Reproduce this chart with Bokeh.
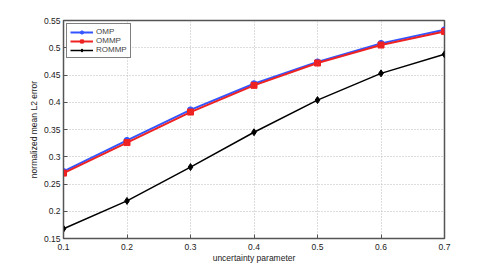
from bokeh.plotting import figure
from bokeh.embed import file_html
from bokeh.resources import INLINE
from bokeh.models import Legend, LegendItem, FixedTicker

x = [0.1, 0.2, 0.3, 0.4, 0.5, 0.6, 0.7]
omp = [0.273, 0.330, 0.386, 0.434, 0.474, 0.508, 0.533]
ommp = [0.270, 0.326, 0.382, 0.431, 0.472, 0.505, 0.530]
rommp = [0.168, 0.219, 0.281, 0.345, 0.404, 0.453, 0.488]
xticks = [0.1, 0.2, 0.3, 0.4, 0.5, 0.6, 0.7]
yticks = [0.15, 0.2, 0.25, 0.3, 0.35, 0.4, 0.45, 0.5, 0.55]

p = figure(width=483, height=265, output_backend="svg", toolbar_location=None,
           x_range=(0.1, 0.7), y_range=(0.15, 0.55),
           min_border_left=63, min_border_right=39, min_border_top=20, min_border_bottom=22)

font = "Liberation Sans"
for ax in (p.xaxis[0], p.yaxis[0]):
    ax.major_label_text_font = font
    ax.major_label_text_font_size = "8.5px"
    ax.major_label_text_color = "#222222"
    ax.axis_label_text_font = font
    ax.axis_label_text_font_size = "8.5px"
    ax.axis_label_text_font_style = "normal"
    ax.axis_label_text_color = "#222222"
    ax.major_tick_in = 4
    ax.major_tick_out = 0
    ax.minor_tick_in = 0
    ax.minor_tick_out = 0
    ax.axis_line_color = "#555555"
    ax.major_tick_line_color = "#555555"

p.xaxis.major_label_standoff = 5
p.yaxis.major_label_standoff = 3
p.xaxis.axis_label_standoff = 0
p.yaxis.axis_label_standoff = 2
p.xaxis.ticker = FixedTicker(ticks=xticks)
p.yaxis.ticker = FixedTicker(ticks=yticks)
p.xaxis.axis_label = "uncertainty parameter"
p.yaxis.axis_label = "normalized mean L2 error"
p.yaxis.major_label_orientation = "horizontal"

p.xgrid.grid_line_color = "#bbbbbb"
p.ygrid.grid_line_color = "#bbbbbb"
p.xgrid.grid_line_dash = "1 2"
p.ygrid.grid_line_dash = "1 2"
p.outline_line_color = "#555555"
p.outline_line_width = 1.5

l1 = p.line(x, omp, line_color="#3355ff", line_width=2)
m1 = p.scatter(x, omp, marker="circle", size=6, fill_color="#3355ff", line_color="#3355ff")
l2 = p.line(x, ommp, line_color="#ee2222", line_width=2)
m2 = p.scatter(x, ommp, marker="square", size=6, fill_color="#ee2222", line_color="#ee2222")
l3 = p.line(x, rommp, line_color="#000000", line_width=1.5)
m3 = p.scatter(x, rommp, marker="diamond", size=7, fill_color="#000000", line_color="#000000")

legend = Legend(items=[
    LegendItem(label="OMP", renderers=[l1, m1]),
    LegendItem(label="OMMP", renderers=[l2, m2]),
    LegendItem(label="ROMMP", renderers=[l3, m3]),
], location="top_left")
legend.label_text_font = font
legend.label_text_font_size = "8px"
legend.label_text_line_height = 1.0
legend.label_height = 8
legend.glyph_height = 8
legend.glyph_width = 23
legend.spacing = 0
legend.padding = 3
legend.margin = 3
legend.label_standoff = 3
legend.border_line_color = "#000000"
legend.border_line_width = 1
p.add_layout(legend)

open("out.html", "w").write(file_html(p, INLINE))
